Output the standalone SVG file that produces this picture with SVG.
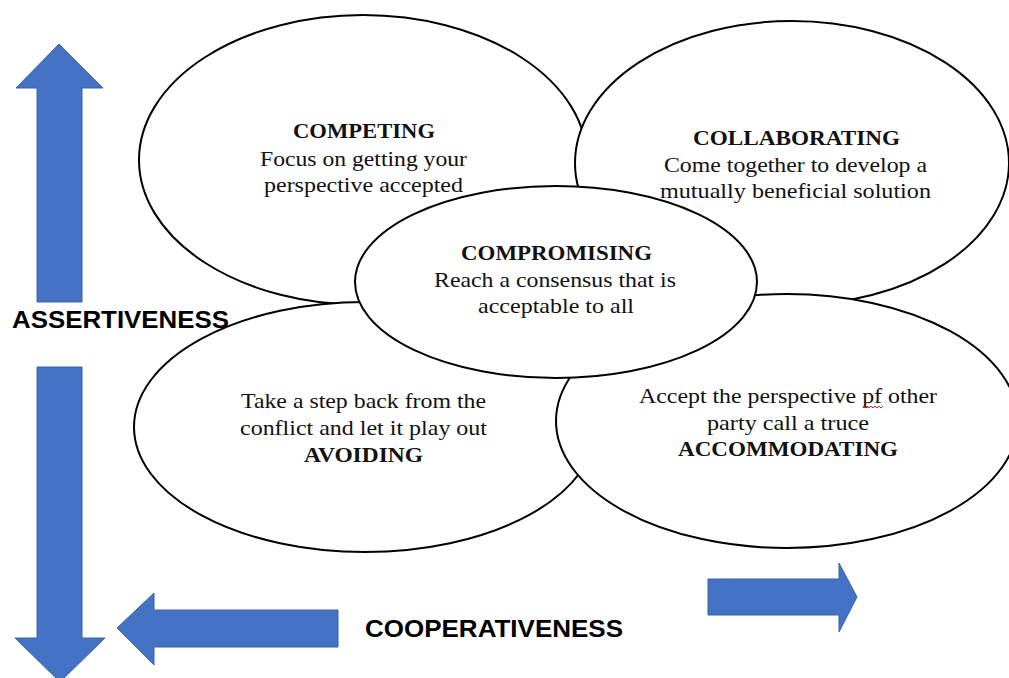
<svg xmlns="http://www.w3.org/2000/svg" width="1009" height="678" viewBox="0 0 1009 678">
<style>
.el{fill:#fff;stroke:#000;stroke-width:2}
.arr{fill:#4472C4;stroke:#3B63AB;stroke-width:1}
.t{font-family:"Liberation Serif","Times New Roman",serif;font-size:21px;fill:#111}
.h{font-family:"Liberation Serif","Times New Roman",serif;font-size:20px;font-weight:bold;fill:#111}
.s{font-family:"Liberation Sans",Arial,sans-serif;font-size:23px;font-weight:bold;fill:#000}
</style>
<rect width="1009" height="678" fill="#fff"/>
<g id="arrows">
<polygon class="arr" points="59,44 103,88 82,88 82,302 37,302 37,88 16,88"/>
<polygon class="arr" points="37,367 82,367 82,638 105,638 60,682 15,638 37,638"/>
<polygon class="arr" points="117,628 154,593 154,610 338,610 338,647 154,647 154,665"/>
<polygon class="arr" points="708,579 839,579 839,563 857,597 839,632 839,615 708,615"/>
</g>
<g id="competing">
<ellipse class="el" cx="363" cy="160" rx="224" ry="145"/>
<text class="h" x="293" y="138" textLength="142" lengthAdjust="spacingAndGlyphs">COMPETING</text>
<text class="t" x="260" y="166" textLength="207" lengthAdjust="spacingAndGlyphs">Focus on getting your</text>
<text class="t" x="264" y="192" textLength="199" lengthAdjust="spacingAndGlyphs">perspective accepted</text>
</g>
<g id="collaborating">
<ellipse class="el" cx="792" cy="163" rx="217" ry="142"/>
<text class="h" x="693" y="145" textLength="207" lengthAdjust="spacingAndGlyphs">COLLABORATING</text>
<text class="t" x="664" y="172" textLength="263" lengthAdjust="spacingAndGlyphs">Come together to develop a</text>
<text class="t" x="660" y="198" textLength="271" lengthAdjust="spacingAndGlyphs">mutually beneficial solution</text>
</g>
<g id="avoiding">
<ellipse class="el" cx="365" cy="427" rx="231" ry="125"/>
<text class="t" x="241" y="408" textLength="245" lengthAdjust="spacingAndGlyphs">Take a step back from the</text>
<text class="t" x="240" y="435" textLength="247" lengthAdjust="spacingAndGlyphs">conflict and let it play out</text>
<text class="h" x="304" y="462" textLength="119" lengthAdjust="spacingAndGlyphs">AVOIDING</text>
</g>
<g id="accommodating">
<ellipse class="el" cx="787" cy="421" rx="231" ry="127"/>
<text class="t" x="639" y="403" textLength="298" lengthAdjust="spacingAndGlyphs">Accept the perspective pf other</text>
<path d="M863,406 l2,2 l2,-2 l2,2 l2,-2 l2,2 l2,-2 l2,2 l2,-2 l2,2 l2,-2" fill="none" stroke="#e02020" stroke-width="1"/>
<text class="t" x="707" y="430" textLength="162" lengthAdjust="spacingAndGlyphs">party call a truce</text>
<text class="h" x="678" y="456" textLength="220" lengthAdjust="spacingAndGlyphs">ACCOMMODATING</text>
</g>
<g id="compromising">
<ellipse class="el" cx="556" cy="282" rx="201" ry="96"/>
<text class="h" x="461" y="260" textLength="191" lengthAdjust="spacingAndGlyphs">COMPROMISING</text>
<text class="t" x="434" y="287" textLength="242" lengthAdjust="spacingAndGlyphs">Reach a consensus that is</text>
<text class="t" x="478" y="313" textLength="156" lengthAdjust="spacingAndGlyphs">acceptable to all</text>
</g>
<g id="labels">
<text class="s" x="12" y="328" textLength="217" lengthAdjust="spacingAndGlyphs">ASSERTIVENESS</text>
<text class="s" x="365" y="637" textLength="258" lengthAdjust="spacingAndGlyphs">COOPERATIVENESS</text>
</g>
</svg>
